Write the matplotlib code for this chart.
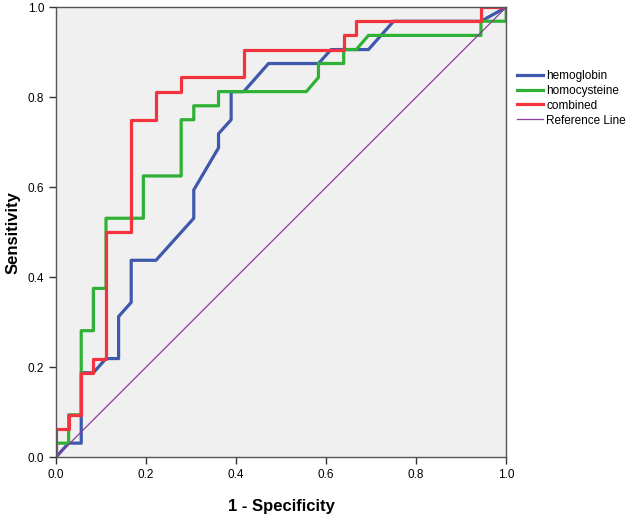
import matplotlib
matplotlib.use("Agg")
import matplotlib.pyplot as plt

plt.rcParams['font.family'] = ['Liberation Sans', 'DejaVu Sans']

# ROC points (1 - specificity, sensitivity)
hemo_x = [0, 0.028, 0.056, 0.056, 0.083, 0.111, 0.139, 0.139, 0.167, 0.167, 0.222, 0.306, 0.306,
          0.361, 0.361, 0.389, 0.389, 0.417, 0.472, 0.583, 0.611, 0.694, 0.75, 0.944, 1.0]
hemo_y = [0, 0.031, 0.031, 0.1875, 0.1875, 0.219, 0.219, 0.3125, 0.344, 0.4375, 0.4375, 0.531, 0.594,
          0.6875, 0.719, 0.75, 0.8125, 0.8125, 0.875, 0.875, 0.906, 0.906, 0.969, 0.969, 1.0]

homo_x = [0, 0, 0.028, 0.028, 0.056, 0.056, 0.083, 0.083, 0.111, 0.111, 0.194, 0.194, 0.278, 0.278, 0.306,
          0.306, 0.361, 0.361, 0.556, 0.583, 0.583, 0.639, 0.639, 0.667, 0.694, 0.944, 0.944, 1.0, 1.0]
homo_y = [0, 0.031, 0.031, 0.094, 0.094, 0.281, 0.281, 0.375, 0.375, 0.531, 0.531, 0.625, 0.625, 0.75, 0.75,
          0.781, 0.781, 0.8125, 0.8125, 0.844, 0.875, 0.875, 0.906, 0.906, 0.9375, 0.9375, 0.969, 0.969, 1.0]

comb_x = [0, 0, 0.028, 0.028, 0.056, 0.056, 0.083, 0.083, 0.111, 0.111, 0.167, 0.167, 0.222, 0.222,
          0.278, 0.278, 0.417, 0.417, 0.639, 0.639, 0.667, 0.667, 0.944, 0.944, 1.0]
comb_y = [0, 0.0625, 0.0625, 0.094, 0.094, 0.1875, 0.1875, 0.219, 0.219, 0.5, 0.5, 0.75, 0.75, 0.8125,
          0.8125, 0.844, 0.844, 0.906, 0.906, 0.9375, 0.9375, 0.969, 0.969, 1.0, 1.0]

ref_x = [0, 1]
ref_y = [0, 1]

ticks = [0.0, 0.2, 0.4, 0.6, 0.8, 1.0]

fig = plt.figure(figsize=(6.44, 5.2), dpi=100)
ax = fig.add_axes([0.087, 0.121, 0.699, 0.865])
ax.set_facecolor('#f0f0f0')

ax.plot(hemo_x, hemo_y, color='#3e58ac', lw=2.3, label='hemoglobin')
ax.plot(homo_x, homo_y, color='#2eb135', lw=2.3, label='homocysteine')
ax.plot(comb_x, comb_y, color='#f5333f', lw=2.3, label='combined')
ax.plot(ref_x, ref_y, color='#8e3c9b', lw=0.9, label='Reference Line')

ax.set_xlim(0, 1)
ax.set_ylim(0, 1)
ax.set_xticks(ticks)
ax.set_yticks(ticks)
ax.set_xticklabels(['%.1f' % t for t in ticks])
ax.set_yticklabels(['%.1f' % t for t in ticks])
ax.tick_params(labelsize=8.5, length=5, width=1, color='#333333')
for s in ax.spines.values():
    s.set_color('#555555')
    s.set_linewidth(1)

ax.set_xlabel('1 - Specificity', fontsize=12, fontweight='bold', labelpad=13)
ax.set_ylabel('Sensitivity', fontsize=12, fontweight='bold', labelpad=5)

fig.legend(loc='upper left', bbox_to_anchor=(0.795, 0.875), frameon=False, fontsize=8.5,
           handlelength=2.2, handletextpad=0.3, labelspacing=0.25, borderaxespad=0)

fig.savefig('out.png', dpi=100)
